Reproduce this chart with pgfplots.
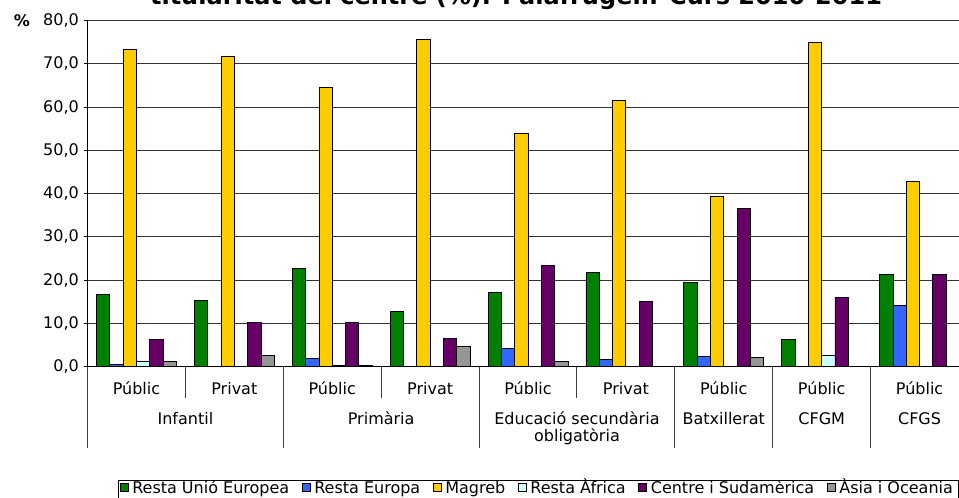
\documentclass[border=0pt]{standalone}
\usepackage{fontspec}
\setmainfont{DejaVu Sans}
\usepackage{pgfplots}
\pgfplotsset{compat=1.18}

\definecolor{cGreen}{HTML}{008000}
\definecolor{cBlue}{HTML}{3366FF}
\definecolor{cYellow}{HTML}{FFCC00}
\definecolor{cCyan}{HTML}{CCFFFF}
\definecolor{cPurple}{HTML}{660066}
\definecolor{cGray}{HTML}{969696}

\begin{document}
\begin{tikzpicture}
\useasboundingbox (0pt,0pt) rectangle (719.25pt,-373.5pt);
\clip (0pt,0pt) rectangle (719.25pt,-373.5pt);
% title, cut at the top as in the source
\node[font=\fontsize{18}{20}\selectfont\bfseries, anchor=base, inner sep=0pt]
  at (387pt,-3.2pt) {titularitat del centre (\%). Palafrugell. Curs 2010-2011};
\node[font=\fontsize{12}{14}\selectfont\bfseries, inner sep=0pt] at (16.5pt,-15.75pt) {\%};
\begin{axis}[
    at={(65.625pt,-275pt)}, anchor=south west,
    scale only axis,
    width=660.75pt, height=259.5pt,
    xmin=-0.5, xmax=8.5,
    ymin=0, ymax=80,
    ybar=0pt, bar width=0.136,
    axis x line=bottom, axis y line=left,
    axis line style={-, black, line width=0.75pt},
    xtick=\empty,
    ytick={0,10,...,80},
    ymajorgrids,
    major grid style={black!80, line width=0.75pt},
    tick align=outside, major tick length=3pt,
    tick style={black, line width=0.75pt},
    yticklabel style={font=\fontsize{12}{14}\selectfont,
      /pgf/number format/.cd, fixed, fixed zerofill, precision=1, use comma,
      assume math mode=true},
    clip=false,
    every axis plot/.append style={draw=black, line width=0.6pt},
    legend columns=-1,
    legend image code/.code={\draw[#1, draw=black, line width=0.5pt] (0pt,-0.4pt) rectangle (6pt,5.6pt);},
    legend style={at={(rel axis cs:0.0346,-0.3265)}, anchor=north west,
      draw=black, line width=0.6pt,
      inner xsep=1pt, inner ysep=0pt,
      nodes={inner xsep=2.9pt, inner ysep=0.5pt, text height=0.93em, text depth=0.6em},
      font=\fontsize{12}{14}\selectfont,
      /tikz/every even column/.append style={column sep=6.5pt}},
  ]
  \addplot[fill=cGreen] coordinates {(0,16.8) (1,15.4) (2,22.7) (3,12.8) (4,17.1) (5,21.7) (6,19.4) (7,6.2) (8,21.4)};
  \addplot[fill=cBlue] coordinates {(0,0.5) (2,1.9) (4,4.2) (5,1.6) (6,2.3) (8,14.1)};
  \addplot[fill=cYellow] coordinates {(0,73.4) (1,71.7) (2,64.5) (3,75.7) (4,53.9) (5,61.6) (6,39.4) (7,75.0) (8,42.8)};
  \addplot[fill=cCyan] coordinates {(0,1.2) (2,0.2) (7,2.5)};
  \addplot[fill=cPurple] coordinates {(0,6.2) (1,10.2) (2,10.2) (3,6.5) (4,23.4) (5,15.1) (6,36.6) (7,16.1) (8,21.4)};
  \addplot[fill=cGray] coordinates {(0,1.2) (1,2.5) (2,0.2) (3,4.8) (4,1.2) (6,2.2)};
  \legend{Resta Unió Europea, Resta Europa, Magreb, Resta Àfrica, Centre i Sudamèrica, Àsia i Oceania}

  % category separators
  \pgfplotsinvokeforeach{-0.5,1.5,3.5,5.5,6.5,7.5,8.5}{
    \draw[black!75, line width=0.75pt] (axis cs:#1,0) -- ++(0pt,-60.75pt);}
  \pgfplotsinvokeforeach{0.5,2.5,4.5}{
    \draw[black!75, line width=0.75pt] (axis cs:#1,0) -- ++(0pt,-23.25pt);}

  % category labels
  \begin{scope}[every node/.style={font=\fontsize{12}{14}\selectfont, anchor=base, inner sep=0pt}]
  \node[yshift=-21.2pt] at (axis cs:0,0) {Públic};
  \node[yshift=-21.2pt] at (axis cs:1,0) {Privat};
  \node[yshift=-21.2pt] at (axis cs:2,0) {Públic};
  \node[yshift=-21.2pt] at (axis cs:3,0) {Privat};
  \node[yshift=-21.2pt] at (axis cs:4,0) {Públic};
  \node[yshift=-21.2pt] at (axis cs:5,0) {Privat};
  \node[yshift=-21.2pt] at (axis cs:6,0) {Públic};
  \node[yshift=-21.2pt] at (axis cs:7,0) {Públic};
  \node[yshift=-21.2pt] at (axis cs:8,0) {Públic};
  \node[yshift=-43pt] at (axis cs:0.5,0) {Infantil};
  \node[yshift=-43pt] at (axis cs:2.5,0) {Primària};
  \node[yshift=-43pt] at (axis cs:4.5,0) {Educació secundària};
  \node[yshift=-56.3pt] at (axis cs:4.5,0) {obligatòria};
  \node[yshift=-43pt] at (axis cs:6,0) {Batxillerat};
  \node[yshift=-43pt] at (axis cs:7,0) {CFGM};
  \node[yshift=-43pt] at (axis cs:8,0) {CFGS};
  \end{scope}
\end{axis}
\end{tikzpicture}
\end{document}
